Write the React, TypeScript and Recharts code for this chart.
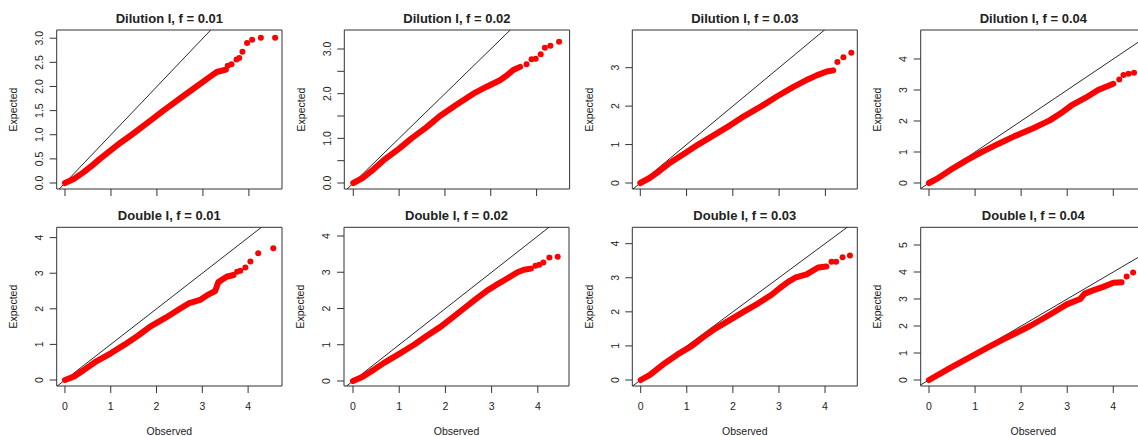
import {
  ComposedChart,
  Line,
  Scatter,
  XAxis,
  YAxis,
  ReferenceLine,
  ReferenceArea,
} from "recharts";

const dil01Body = [[0, 0], [0.2, 0.09], [0.4, 0.22], [0.6, 0.37], [0.76, 0.5], [1.0, 0.68], [1.2, 0.83], [1.45, 1.0], [1.8, 1.25], [2.14, 1.5], [2.5, 1.75], [2.86, 2.0], [3.15, 2.2], [3.3, 2.3], [3.5, 2.35]];
const dil01Tail = [[3.54, 2.43], [3.62, 2.46], [3.73, 2.56], [3.79, 2.59], [3.86, 2.72], [3.96, 2.9], [4.07, 2.97], [4.26, 3.01], [4.57, 3.01]];

const dil02Body = [[0, 0], [0.2, 0.11], [0.4, 0.27], [0.65, 0.5], [1.0, 0.77], [1.27, 1.0], [1.6, 1.25], [1.89, 1.5], [2.25, 1.75], [2.62, 2.0], [2.9, 2.15], [3.2, 2.3], [3.34, 2.4], [3.49, 2.53], [3.64, 2.6]];
const dil02Tail = [[3.78, 2.66], [3.89, 2.77], [3.98, 2.78], [4.09, 2.88], [4.18, 3.03], [4.3, 3.07], [4.49, 3.16]];

const dil03Body = [[0, 0], [0.2, 0.13], [0.4, 0.3], [0.61, 0.5], [0.93, 0.75], [1.25, 1.0], [1.6, 1.25], [1.94, 1.5], [2.19, 1.7], [2.62, 2.0], [2.95, 2.25], [3.31, 2.5], [3.63, 2.7], [3.81, 2.8], [4.03, 2.9], [4.17, 2.93]];
const dil03Tail = [[4.26, 3.15], [4.39, 3.27], [4.56, 3.39]];

const dil04Body = [[0, 0], [0.2, 0.16], [0.53, 0.48], [0.8, 0.72], [1.11, 0.97], [1.5, 1.26], [1.87, 1.52], [2.25, 1.76], [2.62, 2.02], [2.91, 2.3], [3.09, 2.5], [3.4, 2.75], [3.67, 3.0], [4.0, 3.2]];
const dil04Tail = [[4.13, 3.34], [4.22, 3.48], [4.33, 3.52], [4.45, 3.56]];

const dbl01Body = [[0, 0], [0.2, 0.1], [0.4, 0.27], [0.655, 0.5], [1.0, 0.75], [1.31, 1.0], [1.6, 1.25], [1.86, 1.5], [2.2, 1.75], [2.51, 2.0], [2.7, 2.15], [2.95, 2.25], [3.13, 2.4], [3.28, 2.5], [3.35, 2.75], [3.53, 2.9], [3.68, 2.95]];
const dbl01Tail = [[3.76, 3.04], [3.83, 3.07], [3.94, 3.16], [4.05, 3.33], [4.22, 3.56], [4.55, 3.7]];

const dbl02Body = [[0, 0], [0.2, 0.11], [0.4, 0.27], [0.67, 0.5], [1.0, 0.75], [1.32, 1.0], [1.6, 1.25], [1.9, 1.5], [2.15, 1.75], [2.4, 2.0], [2.65, 2.25], [2.91, 2.5], [3.1, 2.65], [3.3, 2.8], [3.56, 3.0], [3.7, 3.07], [3.85, 3.1]];
const dbl02Tail = [[3.95, 3.18], [4.03, 3.21], [4.12, 3.27], [4.25, 3.41], [4.43, 3.43]];

const dbl03Body = [[0, 0], [0.2, 0.15], [0.53, 0.5], [0.8, 0.75], [1.11, 1.0], [1.35, 1.25], [1.61, 1.5], [1.92, 1.75], [2.23, 2.0], [2.55, 2.25], [2.84, 2.5], [3.02, 2.7], [3.2, 2.88], [3.35, 3.0], [3.6, 3.1], [3.85, 3.3], [4.03, 3.33]];
const dbl03Tail = [[4.14, 3.47], [4.24, 3.47], [4.38, 3.6], [4.54, 3.65]];

const dbl04Body = [[0, 0], [0.49, 0.48], [1.03, 0.98], [1.3, 1.23], [1.58, 1.48], [1.9, 1.75], [2.19, 2.0], [2.45, 2.25], [2.7, 2.5], [2.99, 2.8], [3.28, 3.0], [3.38, 3.2], [3.53, 3.3], [3.78, 3.45], [4.0, 3.6], [4.18, 3.62]];
const dbl04Tail = [[4.29, 3.83], [4.43, 3.98]];

const titles = [
  "Dilution I, f = 0.01", "Dilution I, f = 0.02", "Dilution I, f = 0.03", "Dilution I, f = 0.04",
  "Double I, f = 0.01", "Double I, f = 0.02", "Double I, f = 0.03", "Double I, f = 0.04",
];

const xTicks = [0, 1, 2, 3, 4];
const yTicksHalf = [0, 0.5, 1, 1.5, 2, 2.5, 3];
const yTicks3 = [0, 1, 2, 3];
const yTicks4 = [0, 1, 2, 3, 4];
const yTicks5 = [0, 1, 2, 3, 4, 5];
const yLabelsHalfAll = ["0.0", "0.5", "1.0", "1.5", "2.0", "2.5", "3.0"];
const yLabelsHalfInt = ["0.0", "", "1.0", "", "2.0", "", "3.0"];

const toPts = (a: number[][]) => a.map(([o, e]) => ({ o, e }));

const FONT = '"Liberation Sans", Arial, Helvetica, sans-serif';
const INK = "#222";
const FRAME = "#333";

// page-pixel box of each plot region: [left, top, right, bottom]
const panels = [
  { body: dil01Body, tail: dil01Tail, xd: [-0.18, 4.72], yd: [-0.124, 3.17], yt: yTicksHalf, yl: yLabelsHalfAll, box: [56.7, 30, 282, 189] },
  { body: dil02Body, tail: dil02Tail, xd: [-0.196, 4.72], yd: [-0.134, 3.425], yt: yTicksHalf, yl: yLabelsHalfInt, box: [344.3, 30, 569.6, 189] },
  { body: dil03Body, tail: dil03Tail, xd: [-0.173, 4.69], yd: [-0.156, 3.98], yt: yTicks3, yl: null, box: [632.3, 30, 857.3, 189] },
  { body: dil04Body, tail: dil04Tail, xd: [-0.18, 4.71], yd: [-0.194, 4.935], yt: yTicks4, yl: null, box: [920.7, 30, 1146, 189] },
  { body: dbl01Body, tail: dbl01Tail, xd: [-0.18, 4.74], yd: [-0.169, 4.29], yt: yTicks4, yl: null, box: [56.7, 227.3, 282, 386] },
  { body: dbl02Body, tail: dbl02Tail, xd: [-0.195, 4.675], yd: [-0.138, 4.24], yt: yTicks4, yl: null, box: [344, 227.3, 569, 386] },
  { body: dbl03Body, tail: dbl03Tail, xd: [-0.182, 4.7], yd: [-0.176, 4.48], yt: yTicks4, yl: null, box: [632.3, 227.3, 857.3, 386] },
  { body: dbl04Body, tail: dbl04Tail, xd: [-0.18, 4.71], yd: [-0.222, 5.655], yt: yTicks5, yl: null, box: [920.7, 227.3, 1146, 386] },
];

function Panel({ p, idx }: { p: any; idx: number }) {
  const col = idx % 4;
  const bottomRow = idx >= 4;
  const left = col * 288;
  const top = bottomRow ? 200 : 0;
  const w = 288;
  const h = bottomRow ? 236 : 200;
  const [L, T, R, B] = p.box;
  const axisW = L - left;
  const axisH = top + h - B;
  const margin = { left: 0, top: T - top, right: left + w - R, bottom: 0 };

  const yTick = (props: any) => {
    const { x, y, payload } = props;
    const i = p.yt.indexOf(payload.value);
    const label = p.yl ? p.yl[i] : String(payload.value);
    if (!label) return <g />;
    const bx = x - 6.5;
    return (
      <text x={bx} y={y} transform={`rotate(-90 ${bx} ${y})`} textAnchor="middle"
        fontFamily={FONT} fontSize={10.5} fill={INK}>
        {label}
      </text>
    );
  };

  const xTick = (props: any) => {
    const { x, y, payload } = props;
    if (!bottomRow) return <g />;
    return (
      <text x={x} y={y + 17} textAnchor="middle" fontFamily={FONT} fontSize={10.5} fill={INK}>
        {payload.value}
      </text>
    );
  };

  return (
    <div style={{ position: "absolute", left, top }}>
      <ComposedChart width={w} height={h} margin={margin}>
        <XAxis type="number" dataKey="o" domain={p.xd} ticks={xTicks} interval={0}
          allowDataOverflow height={axisH} axisLine={false} tickSize={7} tickMargin={0}
          tickLine={{ stroke: FRAME }} tick={xTick} />
        <YAxis type="number" dataKey="e" domain={p.yd} ticks={p.yt} interval={0}
          allowDataOverflow width={axisW} axisLine={false} tickSize={7} tickMargin={0}
          tickLine={{ stroke: FRAME }} tick={yTick} />
        <ReferenceArea x1={p.xd[0]} x2={p.xd[1]} y1={p.yd[0]} y2={p.yd[1]}
          fill="none" stroke={FRAME} strokeWidth={1} ifOverflow="visible" />
        <ReferenceLine segment={[{ x: -1, y: -1 }, { x: 8, y: 8 }]} ifOverflow="hidden"
          stroke="#111" strokeWidth={0.9} />
        <Line data={toPts(p.body)} dataKey="e" type="linear" stroke="#ff0000" strokeWidth={6}
          strokeLinecap="round" strokeLinejoin="round" dot={false} activeDot={false}
          isAnimationActive={false} />
        <Scatter data={toPts(p.tail)} dataKey="e" isAnimationActive={false}
          shape={(s: any) => <circle cx={s.cx} cy={s.cy} r={3} fill="#ff0000" />} />
      </ComposedChart>
    </div>
  );
}

export default function App() {
  return (
    <div style={{ position: "absolute", left: 0, top: 0, width: 1138, height: 436, overflow: "hidden", background: "#fff" }}>
      {panels.map((p, i) => (
        <Panel key={i} p={p} idx={i} />
      ))}
      <svg width={1138} height={436} style={{ position: "absolute", left: 0, top: 0, pointerEvents: "none" }}>
        {panels.map((p, i) => {
          const [L, T, R, B] = p.box;
          const cx = (L + R) / 2;
          const cy = (T + B) / 2;
          const bottomRow = i >= 4;
          const ex = L - 39.7;
          return (
            <g key={i} fontFamily={FONT} fill={INK}>
              <text x={cx} y={bottomRow ? 219.8 : 22.6} textAnchor="middle" fontSize={13} fontWeight="bold">
                {titles[i]}
              </text>
              <text x={ex} y={cy} transform={`rotate(-90 ${ex} ${cy})`} textAnchor="middle" fontSize={10.5}>
                Expected
              </text>
              {bottomRow && (
                <text x={cx} y={435} textAnchor="middle" fontSize={10.5}>
                  Observed
                </text>
              )}
            </g>
          );
        })}
      </svg>
    </div>
  );
}
